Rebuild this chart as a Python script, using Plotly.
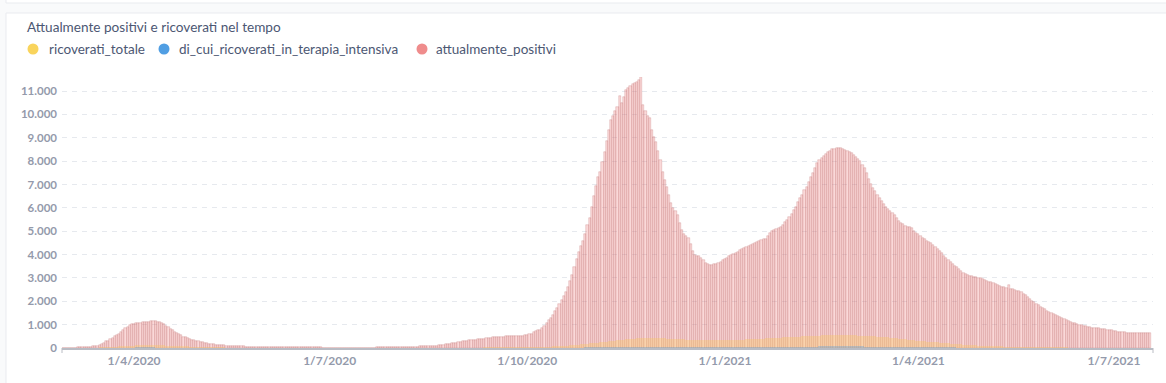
import pandas as pd
import plotly.graph_objects as go

# ---------------- data (daily values, first day = START_DATE) ----------------
START_DATE = "2020-02-28"

attualmente_positivi = [
    2, 3,  # Feb 2020
    5, 8, 10, 14, 18, 22, 28, 33, 40, 48, 55, 62, 72, 85, 100, 140, 180, 230, 280, 320,
    380, 440, 500, 560, 620, 700, 780, 850, 920, 970, 1010,  # Mar
    1040, 1060, 1075, 1085, 1095, 1110, 1120, 1130, 1140, 1145, 1140, 1130, 1110, 1080, 1030,
    960, 890, 815, 760, 700, 640, 590, 540, 490, 450, 420, 385, 360, 335, 315,  # Apr
    290, 265, 240, 220, 205, 190, 175, 160, 145, 135, 125, 118, 110, 104, 100, 95, 90, 85,
    80, 75, 70, 65, 60, 57, 55, 52, 50, 48, 46, 44, 42,  # May
    40, 39, 38, 37, 36, 35, 34, 33, 32, 31, 30, 30, 29, 28, 28, 27, 27, 26, 26, 25,
    25, 24, 24, 23, 23, 22, 22, 21, 21, 20,  # Jun
    20, 20, 19, 19, 19, 18, 18, 18, 18, 17, 17, 17, 17, 17, 18, 18, 18, 19, 19, 20,
    20, 21, 22, 22, 23, 24, 25, 26, 27, 28, 30,  # Jul
    32, 34, 36, 38, 40, 42, 45, 48, 52, 56, 60, 65, 70, 75, 80, 85, 90, 95, 100, 105,
    115, 130, 145, 160, 175, 190, 205, 220, 235, 250, 265,  # Aug
    280, 295, 310, 322, 335, 345, 355, 368, 380, 392, 405, 418, 430, 442, 455, 462, 470,
    478, 485, 492, 498, 503, 508, 512, 516, 520, 525, 530, 535, 540,  # Sep
    550, 580, 620, 670, 710, 750, 790, 870, 960, 1050, 1180, 1300, 1430, 1570, 1720, 1880,
    2050, 2220, 2380, 2620, 2880, 3120, 3450, 3820, 4100, 4350, 4600, 4900, 5250, 5580, 6050,  # Oct
    6500, 6950, 7300, 7550, 7950, 8400, 8850, 9350, 9750, 9950, 10150, 10300, 10800, 10500,
    10750, 11050, 11150, 11230, 11290, 11350, 11400, 11480, 11600, 10400, 10150, 9950, 9850,
    9350, 9050, 8800,  # Nov
    8450, 8050, 7550, 7200, 6900, 6550, 6200, 6000, 5850, 5700, 5350, 5050, 4900, 4800, 4720,
    4450, 4150, 4000, 3950, 3930, 3850, 3750, 3620, 3580, 3570, 3570, 3580, 3600, 3640, 3700,
    3760,  # Dec
    3820, 3870, 3920, 3980, 4030, 4080, 4130, 4180, 4240, 4290, 4330, 4370, 4410, 4460, 4500,
    4540, 4580, 4620, 4650, 4680, 4800, 4920, 5000, 5050, 5100, 5150, 5200, 5280, 5380, 5500,
    5620,  # Jan 2021
    5750, 5900, 6050, 6250, 6400, 6550, 6750, 6900, 7100, 7300, 7500, 7700, 7900, 8050, 8150,
    8220, 8320, 8380, 8430, 8500, 8530, 8550, 8560, 8540, 8520, 8480, 8440, 8400,  # Feb
    8330, 8250, 8180, 8100, 8000, 7850, 7700, 7500, 7250, 7000, 6850, 6700, 6550, 6430, 6300,
    6150, 6020, 5950, 5850, 5780, 5680, 5550, 5440, 5360, 5300, 5240, 5200, 5160, 5120, 5020,
    4930,  # Mar
    4880, 4800, 4730, 4660, 4600, 4550, 4490, 4420, 4340, 4250, 4150, 4050, 3950, 3850, 3750,
    3660, 3600, 3520, 3450, 3380, 3300, 3220, 3160, 3120, 3090, 3070, 3050, 3030, 3010, 2990,  # Apr
    2950, 2900, 2860, 2840, 2810, 2780, 2740, 2690, 2650, 2620, 2590, 2570, 2700, 2540, 2510,
    2470, 2440, 2420, 2380, 2330, 2280, 2180, 2080, 2010, 1950, 1880, 1830, 1770, 1720, 1660,
    1600,  # May
    1540, 1500, 1450, 1400, 1360, 1320, 1290, 1240, 1190, 1150, 1110, 1080, 1050, 1020, 1000,
    980, 960, 940, 915, 895, 875, 860, 845, 835, 820, 810, 800, 785, 770, 755,  # Jun
    740, 720, 705, 690, 675, 665, 655, 645, 640, 635, 632, 630, 630, 628, 630, 632, 635, 640,  # Jul
]

ricoverati_totale = [
    0, 0,
    0, 0, 1, 1, 2, 2, 3, 4, 5, 6, 8, 10, 12, 15, 18, 22, 26, 30, 35, 40, 45, 50, 56, 62, 68,
    74, 80, 86, 92, 97, 102,
    106, 110, 113, 116, 118, 120, 121, 122, 122, 121, 120, 118, 116, 113, 110, 106, 102, 98,
    94, 90, 86, 82, 78, 74, 70, 66, 62, 58, 55, 52,
    49, 46, 43, 40, 38, 36, 34, 32, 30, 28, 26, 24, 22, 21, 20, 19, 18, 17, 16, 15, 14, 13,
    12, 11, 10, 10, 9, 9, 8, 8, 8,
    7, 7, 7, 6, 6, 6, 6, 5, 5, 5, 5, 5, 5, 4, 4, 4, 4, 4, 4, 4, 4, 4, 4, 4, 4, 4, 4, 4, 4, 4,
    5, 5, 5, 6, 6, 6, 6, 7, 7, 7, 7, 7, 7, 7, 7, 7, 7, 7, 7, 7, 7, 7, 8, 8, 8, 8, 8, 8, 8, 8, 8,
    8, 8, 8, 8, 8, 8, 8, 8, 8, 8, 8, 9, 9, 9, 9, 10, 10, 10, 10, 11, 11, 12, 12, 13, 13, 14,
    14, 15, 15, 16, 16,
    17, 17, 18, 18, 19, 19, 20, 20, 21, 21, 22, 22, 23, 23, 24, 24, 25, 25, 26, 26, 27, 27,
    28, 28, 29, 30, 31, 32, 33, 34,
    35, 37, 39, 41, 43, 45, 48, 51, 54, 57, 60, 64, 68, 72, 77, 82, 88, 94, 100, 107, 114,
    122, 130, 138, 147, 156, 165, 175, 185, 195, 205,
    215, 225, 235, 245, 255, 265, 275, 285, 295, 305, 315, 325, 335, 345, 355, 365, 375, 385,
    395, 405, 410, 415, 420, 425, 430, 430, 430, 428, 426, 424,
    420, 416, 412, 408, 404, 400, 395, 390, 385, 380, 375, 370, 365, 360, 355, 350, 345, 340,
    338, 336, 334, 332, 330, 328, 326, 325, 324, 324, 325, 326, 328,
    330, 333, 336, 340, 344, 348, 352, 356, 360, 364, 368, 372, 376, 380, 385, 390, 395, 400,
    405, 410, 415, 420, 425, 430, 435, 440, 445, 450, 455, 460, 465,
    470, 475, 480, 485, 490, 495, 500, 505, 510, 515, 520, 525, 530, 535, 540, 545, 548, 550,
    552, 554, 555, 556, 556, 555, 554, 552, 550, 548,
    545, 542, 538, 534, 530, 525, 520, 515, 510, 505, 500, 495, 490, 485, 480, 470, 460, 450,
    440, 430, 420, 410, 400, 390, 380, 370, 360, 350, 340, 330, 320,
    310, 300, 292, 284, 276, 268, 260, 252, 244, 236, 228, 220, 212, 204, 196, 188, 180, 172,
    165, 158, 151, 144, 138, 132, 126, 120, 115, 110, 105, 100,
    96, 92, 88, 84, 80, 77, 74, 71, 68, 65, 62, 60, 58, 56, 54, 52, 50, 48, 46, 44, 42, 40,
    39, 38, 37, 36, 35, 34, 33, 32, 31,
    30, 29, 28, 27, 26, 25, 24, 23, 22, 21, 20, 20, 19, 19, 18, 18, 17, 17, 16, 16, 15, 15,
    15, 14, 14, 14, 13, 13, 13, 12,
    12, 12, 12, 11, 11, 11, 11, 10, 10, 10, 10, 10, 10, 10, 10, 10, 10, 10,
]

terapia_intensiva = [
    0, 0,
    0, 0, 0, 0, 0, 0, 0, 1, 1, 1, 2, 2, 3, 3, 4, 5, 6, 7, 8, 9, 10, 11, 12, 13, 14, 15, 16,
    17, 18, 19, 20,
    21, 22, 22, 23, 23, 23, 23, 23, 22, 22, 21, 21, 20, 19, 18, 17, 16, 15, 14, 13, 12, 11,
    10, 10, 9, 9, 8, 8, 7, 7,
    7, 6, 6, 6, 5, 5, 5, 4, 4, 4, 4, 3, 3, 3, 3, 3, 2, 2, 2, 2, 2, 2, 2, 2, 1, 1, 1, 1, 1, 1, 1,
    1, 1, 1, 1, 1, 1, 1, 1, 1, 1, 1, 1, 1, 1, 1, 0, 0, 0, 0, 0, 0, 0, 0, 0, 0, 0, 0, 0, 0, 0,
    0, 0, 0, 0, 0, 0, 0, 0, 0, 0, 0, 0, 0, 0, 0, 0, 0, 0, 0, 0, 0, 0, 0, 0, 0, 0, 0, 0, 0, 0, 0,
    0, 0, 0, 0, 0, 0, 0, 0, 0, 0, 0, 0, 0, 0, 0, 0, 0, 0, 0, 1, 1, 1, 1, 1, 1, 1, 1, 1, 1, 1, 1,
    1, 1, 1, 1, 1, 1, 2, 2, 2, 2, 2, 2, 2, 2, 3, 3, 3, 3, 3, 3, 3, 3, 3, 4, 4, 4, 4, 4, 4, 4,
    4, 4, 5, 5, 5, 5, 6, 6, 6, 7, 7, 8, 8, 9, 9, 10, 11, 12, 13, 14, 15, 16, 17, 18, 19, 20,
    21, 22, 23, 24, 25,
    26, 27, 28, 29, 30, 31, 32, 33, 34, 35, 36, 37, 38, 39, 40, 41, 42, 43, 44, 45, 46, 46,
    47, 47, 48, 48, 48, 48, 48, 47,
    47, 46, 46, 45, 45, 44, 44, 43, 43, 42, 42, 41, 41, 40, 40, 39, 39, 38, 38, 38, 37, 37,
    37, 36, 36, 36, 36, 36, 36, 37, 37,
    37, 38, 38, 39, 39, 40, 40, 41, 41, 42, 42, 43, 43, 44, 44, 45, 45, 46, 46, 47, 47, 48,
    48, 49, 49, 50, 50, 51, 51, 52, 52,
    53, 53, 54, 55, 56, 57, 58, 59, 60, 61, 62, 63, 64, 65, 66, 67, 68, 68, 69, 69, 70, 70,
    70, 70, 70, 69, 69, 68,
    68, 67, 67, 66, 66, 65, 64, 63, 62, 61, 60, 59, 58, 57, 56, 55, 54, 53, 52, 51, 50, 49,
    48, 47, 46, 45, 44, 43, 42, 41, 40,
    39, 38, 37, 36, 35, 34, 33, 32, 31, 30, 29, 28, 27, 26, 25, 24, 23, 22, 21, 20, 19, 18,
    17, 16, 15, 15, 14, 14, 13, 13,
    12, 12, 11, 11, 10, 10, 10, 9, 9, 9, 8, 8, 8, 7, 7, 7, 6, 6, 6, 6, 5, 5, 5, 5, 4, 4, 4,
    4, 4, 3, 3,
    3, 3, 3, 3, 3, 3, 3, 2, 2, 2, 2, 2, 2, 2, 2, 2, 2, 2, 2, 2, 2, 2, 1, 1, 1, 1, 1, 1, 1, 1,
    1, 1, 1, 1, 1, 1, 1, 1, 1, 1, 1, 1, 1, 1, 1, 1, 1, 1,
]

series_names = ["ricoverati_totale", "di_cui_ricoverati_in_terapia_intensiva", "attualmente_positivi"]
series_colors = ["#F9D45C", "#509EE3", "#EF8C8C"]
chart_title = "Attualmente positivi e ricoverati nel tempo"

y_tick_vals = [0, 1000, 2000, 3000, 4000, 5000, 6000, 7000, 8000, 9000, 10000, 11000]
y_tick_text = ["0", "1.000", "2.000", "3.000", "4.000", "5.000", "6.000", "7.000",
               "8.000", "9.000", "10.000", "11.000"]
x_tick_vals = ["2020-04-01", "2020-07-01", "2020-10-01", "2021-01-01", "2021-04-01", "2021-07-01"]
x_tick_text = ["1/4/2020", "1/7/2020", "1/10/2020", "1/1/2021", "1/4/2021", "1/7/2021"]

n = len(attualmente_positivi)
assert len(ricoverati_totale) == n and len(terapia_intensiva) == n, (n, len(ricoverati_totale), len(terapia_intensiva))
dates = pd.date_range(START_DATE, periods=n, freq="D")

# ---------------- geometry helpers ----------------
W, H = 1166, 383
ML, MR, MT, MB = 62, 13, 77, 35
PW, PH = W - ML - MR, H - MT - MB


def px_x(px):
    return (px - ML) / PW


def px_y(py):
    return (H - MB - py) / PH


FONT = "Lato, 'Open Sans', sans-serif"
TEXT_DARK = "#4C5773"
TICK_GRAY = "#949AAB"

fig = go.Figure()

fig.add_trace(go.Bar(
    x=dates, y=attualmente_positivi, name=series_names[2],
    marker=dict(color="rgba(239,140,140,0.33)", line=dict(color="rgba(190,110,110,0.55)", width=0.5)),
    showlegend=False,
))
fig.add_trace(go.Bar(
    x=dates, y=ricoverati_totale, name=series_names[0],
    marker=dict(color="rgba(249,200,92,0.35)", line=dict(width=0)),
    showlegend=False,
))
fig.add_trace(go.Bar(
    x=dates, y=terapia_intensiva, name=series_names[1],
    marker=dict(color="rgba(80,158,227,0.35)", line=dict(width=0)),
    showlegend=False,
))

shapes = [
    # card above (bottom edge) and this card
    dict(type="rect", xref="paper", yref="paper", x0=px_x(6), x1=px_x(1185), y0=px_y(3), y1=px_y(-60),
         fillcolor="white", line=dict(color="#E9EBEF", width=1), layer="below"),
    dict(type="rect", xref="paper", yref="paper", x0=px_x(6), x1=px_x(1185), y0=px_y(420), y1=px_y(13),
         fillcolor="white", line=dict(color="#E9EBEF", width=1), layer="below"),
    # end ticks on x axis
    dict(type="line", xref="paper", yref="paper", x0=0, x1=0, y0=0, y1=px_y(H - MB + 5),
         line=dict(color="#B9BCC4", width=1)),
    dict(type="line", xref="paper", yref="paper", x0=1, x1=1, y0=0, y1=px_y(H - MB + 5),
         line=dict(color="#B9BCC4", width=1)),
]
annotations = [
    dict(text=chart_title, xref="paper", yref="paper", x=px_x(25), y=px_y(27),
         xanchor="left", yanchor="middle", showarrow=False,
         font=dict(family=FONT, size=13.6, color=TEXT_DARK)),
]

legend_dot_px = [33, 164, 422]
legend_text_px = [47, 177, 434]
LEG_Y = 49
for name, color, dx, tx in zip(series_names, series_colors, legend_dot_px, legend_text_px):
    shapes.append(dict(type="circle", xref="paper", yref="paper",
                       xsizemode="pixel", ysizemode="pixel",
                       xanchor=px_x(dx), yanchor=px_y(LEG_Y),
                       x0=-5.5, x1=5.5, y0=-5.5, y1=5.5,
                       fillcolor=color, line=dict(width=0)))
    annotations.append(dict(text=name, xref="paper", yref="paper", x=px_x(tx), y=px_y(LEG_Y),
                            xanchor="left", yanchor="middle", showarrow=False,
                            font=dict(family=FONT, size=13.5, color=TEXT_DARK)))

fig.update_layout(
    width=W, height=H,
    margin=dict(l=ML, r=MR, t=MT, b=MB, pad=0),
    paper_bgcolor="#F9FAFB",
    plot_bgcolor="rgba(0,0,0,0)",
    barmode="overlay",
    bargap=0,
    showlegend=False,
    font=dict(family=FONT, color=TEXT_DARK),
    shapes=shapes,
    annotations=annotations,
    xaxis=dict(
        type="date",
        range=["2020-02-27 10:48", "2021-07-19 05:00"],
        tickmode="array", tickvals=x_tick_vals, ticktext=x_tick_text,
        showgrid=False, zeroline=False,
        showline=True, linecolor="#B9BCC4", linewidth=1.5,
        ticks="", ticklabelstandoff=1,
        tickfont=dict(family=FONT, size=12, color=TICK_GRAY, weight="bold"),
    ),
    yaxis=dict(
        range=[0, 11600],
        tickmode="array", tickvals=y_tick_vals, ticktext=y_tick_text,
        showgrid=True, gridcolor="#E6E9EE", gridwidth=1, griddash="5px,5px",
        zeroline=False, showline=False, ticks="", ticklabelstandoff=4,
        tickfont=dict(family=FONT, size=11.5, color=TICK_GRAY, weight="bold"),
    ),
)

fig.write_html(
    "out.html",
    config={"displayModeBar": False},
    post_script="document.body.style.margin='0px';document.body.style.overflow='hidden';",
)
